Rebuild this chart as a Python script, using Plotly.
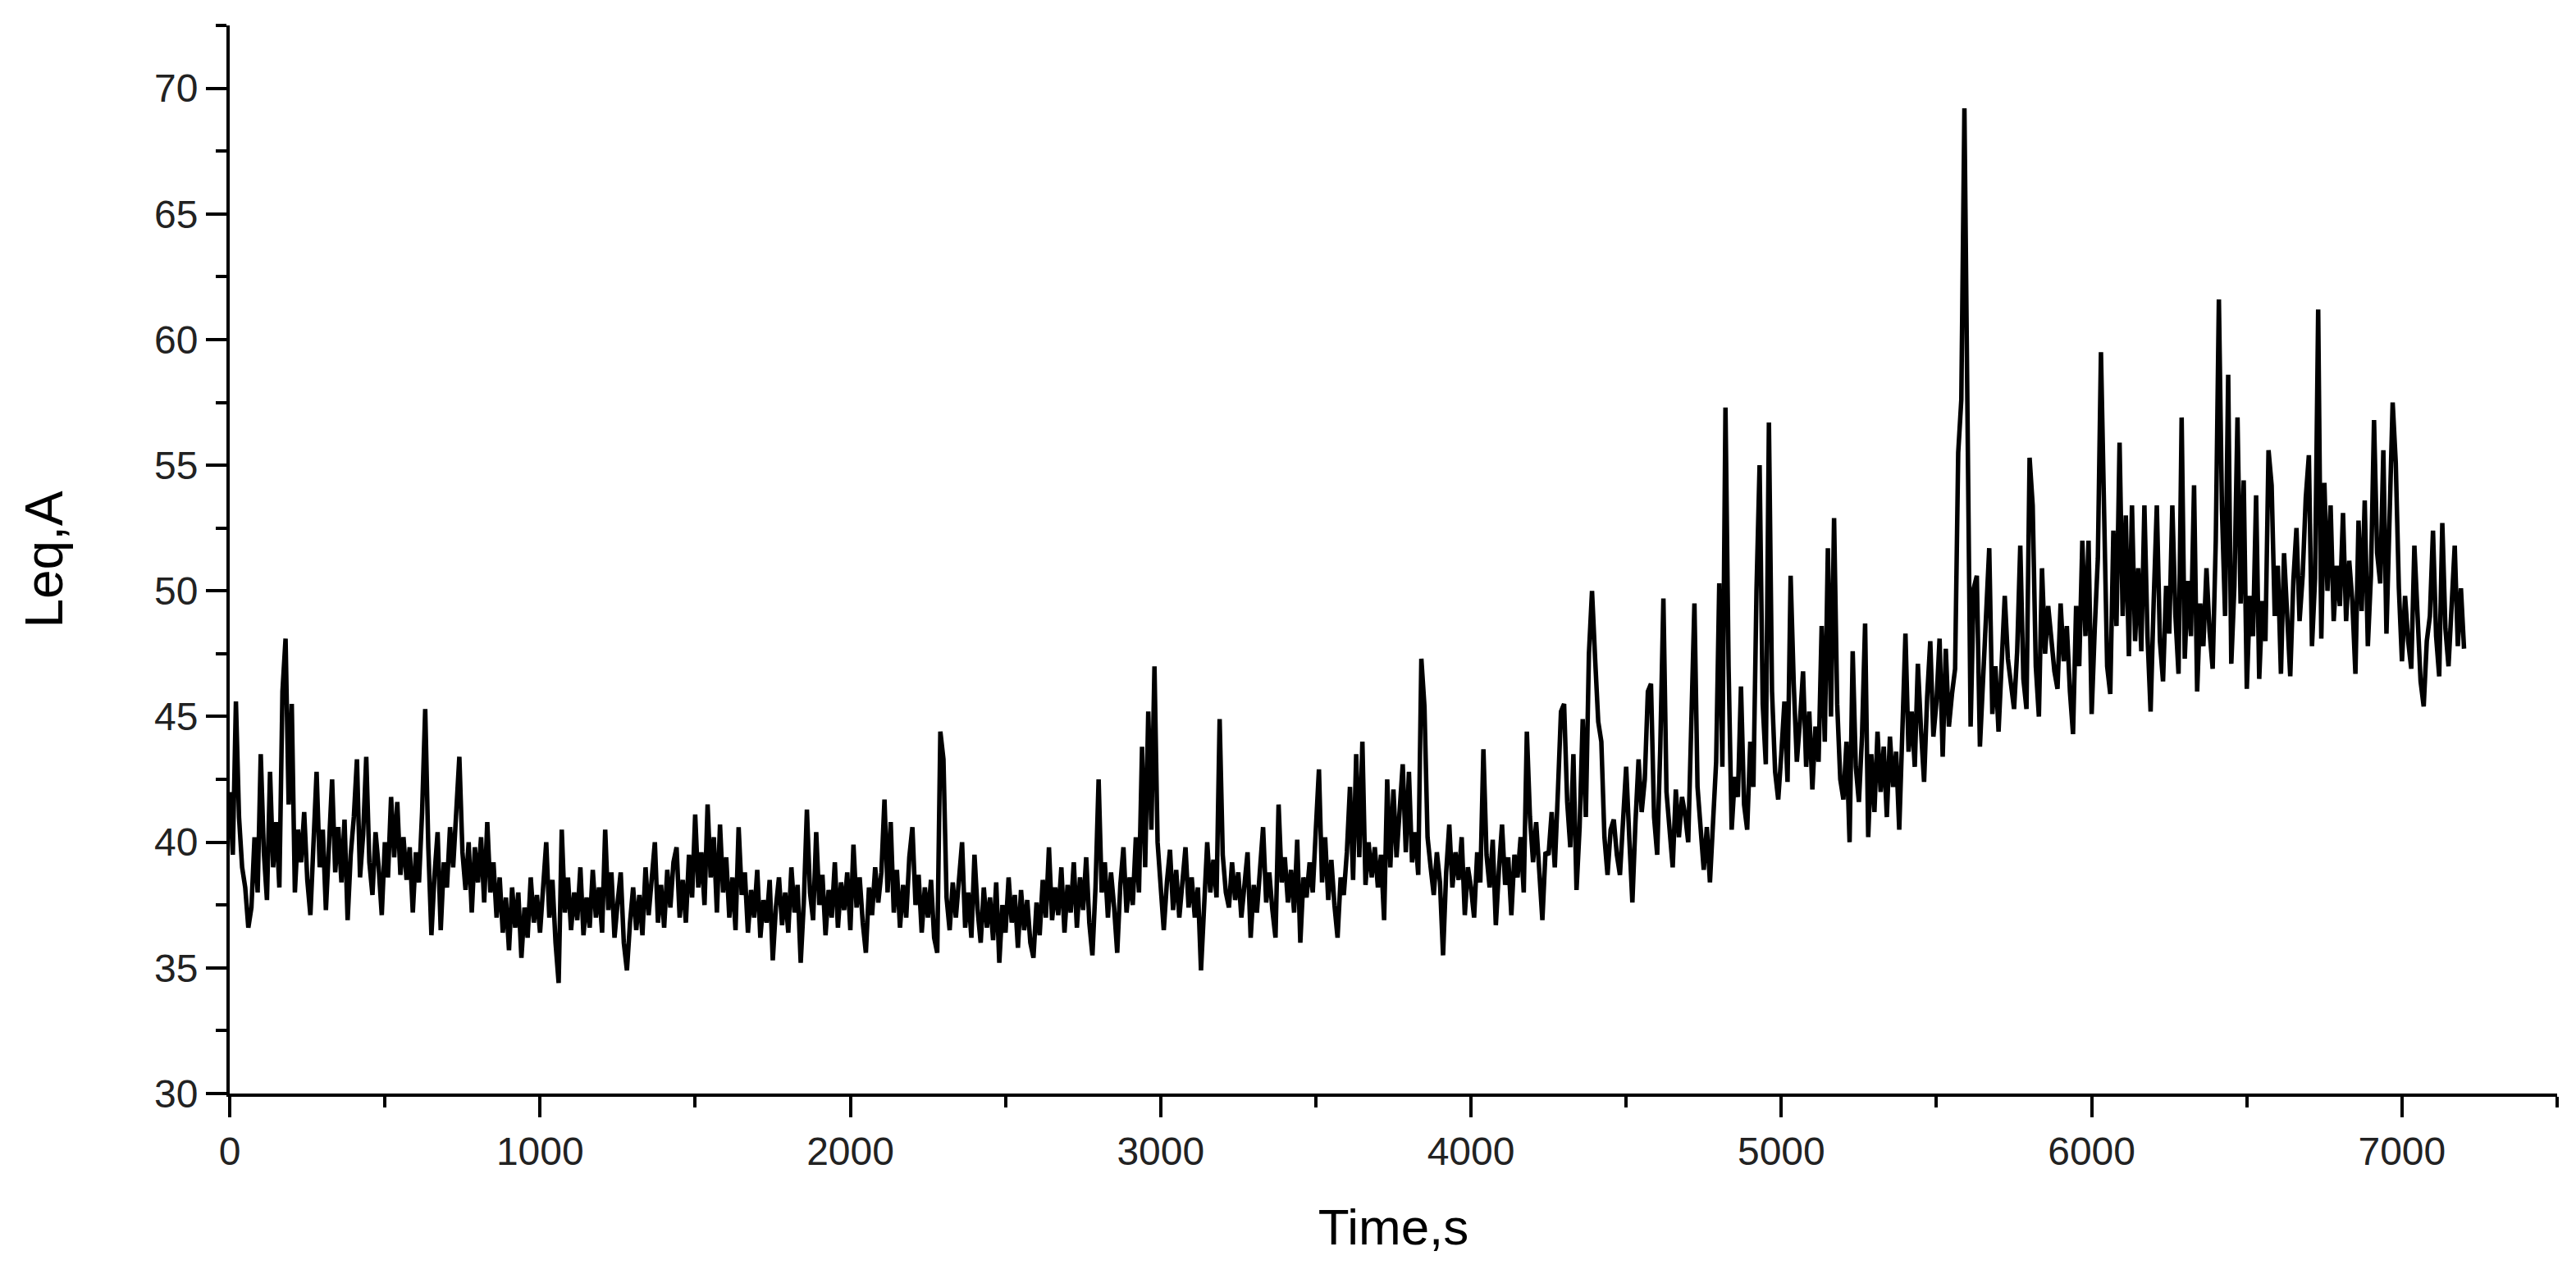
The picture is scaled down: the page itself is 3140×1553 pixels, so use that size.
import plotly.graph_objects as go

# Leq,A readings every 10 s
leq_a = [
    42.0, 39.5, 45.6, 41.0, 39.0, 38.2, 36.6, 37.4, 40.2, 38.0, 43.5, 39.6, 37.7, 42.8, 39.0, 40.8, 38.2, 46.0, 48.1, 41.5,
    45.5, 38.0, 40.5, 39.2, 41.2, 38.5, 37.1, 40.0, 42.8, 39.0, 40.5, 37.3, 40.2, 42.5, 38.8, 40.6, 38.4, 40.9, 36.9, 39.5,
    41.0, 43.3, 38.6, 40.3, 43.4, 39.2, 37.9, 40.4, 39.0, 37.1, 40.0, 38.6, 41.8, 39.4, 41.6, 38.7, 40.2, 38.5, 39.8, 37.2,
    39.6, 38.4, 41.2, 45.3, 39.8, 36.3, 38.7, 40.4, 36.5, 39.2, 38.2, 40.6, 39.0, 41.0, 43.4, 39.6, 38.1, 40.0, 37.2, 39.8,
    38.4, 40.2, 37.6, 40.8, 38.0, 39.2, 37.0, 38.6, 36.4, 37.8, 35.7, 38.2, 36.6, 38.0, 35.4, 37.4, 36.2, 38.6, 36.8, 37.9,
    36.4, 38.2, 40.0, 37.0, 38.5, 36.0, 34.4, 40.5, 37.2, 38.6, 36.5, 38.0, 36.9, 39.0, 36.3, 37.8, 36.6, 38.9, 37.0, 38.2,
    36.4, 40.5, 37.3, 38.8, 36.2, 37.6, 38.8, 36.0, 34.9, 36.8, 38.2, 36.5, 37.9, 36.3, 39.0, 37.1, 38.4, 40.0, 36.8, 38.3,
    36.6, 38.9, 37.4, 39.2, 39.8, 37.0, 38.5, 36.8, 39.5, 37.8, 41.1, 38.2, 39.6, 37.5, 41.5, 38.6, 40.2, 37.2, 40.7, 38.0,
    39.4, 37.0, 38.6, 36.5, 40.6, 37.9, 38.8, 36.4, 38.1, 37.0, 38.9, 36.2, 37.7, 36.8, 38.5, 35.3, 37.4, 38.6, 36.7, 38.0,
    36.4, 39.0, 37.2, 38.3, 35.2, 37.6, 41.3, 38.0, 36.9, 40.4, 37.5, 38.7, 36.3, 38.1, 37.0, 39.2, 36.6, 38.4, 37.3, 38.8,
    36.5, 39.9, 37.4, 38.6, 36.8, 35.6, 38.2, 37.1, 39.0, 37.6, 38.8, 41.7, 38.0, 40.8, 37.2, 38.9, 36.6, 38.3, 37.0, 39.4,
    40.6, 37.5, 38.7, 36.4, 38.2, 37.0, 38.5, 36.2, 35.6, 44.4, 43.3, 37.8, 36.5, 38.4, 37.0, 38.8, 40.0, 36.6, 38.0, 36.2,
    39.5, 37.3, 36.0, 38.2, 36.6, 37.8, 36.1, 38.4, 35.2, 37.5, 36.4, 38.6, 36.8, 37.9, 35.8, 38.1, 36.5, 37.7, 36.0, 35.4,
    37.6, 36.3, 38.5, 37.0, 39.8, 36.9, 38.2, 37.1, 39.0, 36.4, 38.3, 37.2, 39.2, 36.6, 38.6, 37.3, 39.4, 36.8, 35.5, 38.2,
    42.5, 38.0, 39.2, 37.0, 38.8, 37.4, 35.6, 38.3, 39.8, 37.2, 38.6, 37.5, 40.2, 38.0, 43.8, 39.0, 45.2, 40.5, 47.0, 40.0,
    38.2, 36.5, 38.4, 39.7, 37.3, 38.9, 37.0, 38.5, 39.8, 37.4, 38.6, 37.0, 38.2, 34.9, 37.6, 40.0, 38.0, 39.3, 37.8, 44.9,
    39.5, 38.0, 37.4, 39.2, 37.7, 38.8, 37.0, 38.5, 39.6, 36.2, 38.3, 37.2, 39.0, 40.6, 37.6, 38.8, 37.3, 36.2, 41.5, 38.4,
    39.4, 37.6, 38.9, 37.2, 40.1, 36.0, 38.6, 37.8, 39.2, 38.0, 40.5, 42.9, 38.4, 40.2, 37.7, 39.3, 37.5, 36.2, 38.6, 37.9,
    39.6, 42.2, 38.5, 43.5, 39.4, 44.0, 38.3, 40.0, 38.6, 39.8, 38.2, 39.5, 36.9, 42.5, 39.0, 42.1, 39.4, 41.0, 43.1, 39.6,
    42.8, 39.2, 40.4, 38.7, 47.3, 45.4, 40.2, 39.0, 37.9, 39.6, 38.4, 35.5, 38.8, 40.7, 38.2, 39.6, 38.5, 40.2, 37.1, 39.0,
    38.2, 37.0, 39.6, 38.4, 43.7, 39.5, 38.2, 40.1, 36.7, 38.9, 40.7, 38.3, 39.4, 37.1, 39.5, 38.6, 40.2, 38.0, 44.4, 41.0,
    39.2, 40.8, 38.5, 36.9, 39.6, 39.5, 41.2, 39.0, 42.0, 45.2, 45.5, 41.6, 39.8, 43.5, 38.1, 40.6, 44.9, 41.0, 47.5, 50.0,
    47.3, 44.8, 44.0, 40.2, 38.7, 40.5, 40.9, 39.5, 38.7, 40.6, 43.0, 40.2, 37.6, 40.8, 43.3, 41.2, 42.5, 46.0, 46.3, 41.0,
    39.5, 43.8, 49.7, 42.0, 40.6, 39.0, 42.1, 40.2, 41.8, 41.1, 40.0, 44.5, 49.5, 42.2, 40.4, 38.9, 40.6, 38.4, 40.8, 43.2,
    50.3, 43.0, 57.3, 47.0, 40.5, 42.6, 41.8, 46.2, 41.5, 40.5, 44.0, 42.2, 50.0, 55.0, 45.5, 43.1, 56.7, 46.0, 42.8, 41.7,
    43.5, 45.6, 42.4, 50.6, 46.3, 43.2, 44.8, 46.8, 43.0, 45.2, 42.1, 44.6, 43.2, 48.6, 44.0, 51.7, 45.0, 52.9, 45.5, 42.5,
    41.7, 44.0, 40.0, 47.6, 43.0, 41.6, 44.2, 48.7, 40.2, 43.5, 41.2, 44.4, 42.0, 43.8, 41.0, 44.2, 42.2, 43.6, 40.5, 44.0,
    48.3, 43.6, 45.2, 43.0, 47.1, 44.5, 42.4, 45.8, 48.0, 44.2, 45.6, 48.1, 43.4, 47.7, 44.6, 45.9, 46.9, 55.5, 57.6, 69.2,
    58.4, 44.6, 50.1, 50.6, 43.8, 46.5, 48.3, 51.7, 45.1, 47.0, 44.4, 46.8, 49.8, 47.3, 46.2, 45.3, 47.6, 51.8, 46.5, 45.3,
    55.3, 53.4, 47.0, 45.0, 50.9, 47.5, 49.4, 48.0, 46.8, 46.1, 49.5, 47.2, 48.6, 46.0, 44.3, 49.4, 47.0, 52.0, 48.2, 52.0,
    45.1, 48.5, 51.3, 59.5, 53.9, 47.0, 45.9, 52.4, 48.6, 55.9, 49.0, 53.0, 47.4, 53.4, 48.0, 50.9, 47.6, 53.4, 48.2, 45.2,
    49.6, 53.4, 48.0, 46.4, 50.2, 48.3, 53.4, 49.0, 46.7, 56.9, 47.3, 50.4, 48.2, 54.2, 46.0, 49.5, 47.8, 50.9, 48.4, 46.9,
    52.0, 61.6, 53.2, 49.0, 58.6, 47.1, 50.2, 56.9, 49.5, 54.4, 46.1, 49.8, 48.2, 53.8, 46.5, 49.6, 48.0, 55.6, 54.2, 49.0,
    51.0, 46.7, 51.5, 48.6, 46.6, 50.4, 52.5, 48.8, 50.6, 53.7, 55.4, 47.8, 50.5, 61.2, 48.1, 54.3, 50.0, 53.4, 48.8, 51.0,
    49.4, 53.1, 48.8, 51.2, 49.6, 46.7, 52.8, 49.2, 53.6, 47.8, 50.6, 56.8, 51.5, 50.3, 55.6, 48.3, 53.0, 57.5, 55.1, 50.1,
    47.2, 49.8, 48.0, 46.9, 51.8, 48.5, 46.4, 45.4, 48.0, 49.0, 52.4, 48.2, 46.6, 52.7, 48.5, 47.0, 49.5, 51.8, 47.8, 50.1,
    47.7,
]
time_s = [i * 10 for i in range(len(leq_a))]

x_ticks = [0, 1000, 2000, 3000, 4000, 5000, 6000, 7000]
y_ticks = [30, 35, 40, 45, 50, 55, 60, 65, 70]

fig = go.Figure()
fig.add_trace(go.Scatter(x=time_s, y=leq_a, mode="lines",
                         line=dict(color="black", width=5.5), showlegend=False))

axis_font = dict(family="Liberation Sans, Arial", size=48, color="#222")

fig.update_xaxes(
    range=[0, 7500], tickvals=x_ticks, ticks="outside", ticklen=25, tickwidth=4,
    tickcolor="black", showline=True, linewidth=4, linecolor="black",
    showgrid=False, zeroline=False, tickfont=axis_font,
    minor=dict(dtick=500, tick0=0, ticks="outside", ticklen=13, tickwidth=4,
               tickcolor="black", showgrid=False),
    title=dict(text="Time,s", font=dict(family="Liberation Sans, Arial", size=62, color="black"),
               standoff=46),
)
fig.update_yaxes(
    range=[30, 72.5], tickvals=y_ticks, ticks="outside", ticklen=25, tickwidth=4,
    tickcolor="black", showline=True, linewidth=4, linecolor="black",
    showgrid=False, zeroline=False, tickfont=axis_font,
    minor=dict(dtick=2.5, tick0=30, ticks="outside", ticklen=13, tickwidth=4,
               tickcolor="black", showgrid=False),
    title=dict(text="Leq,A", font=dict(family="Liberation Sans, Arial", size=64, color="black"),
               standoff=92),
)

fig.update_layout(
    width=3140, height=1553,
    margin=dict(l=272, r=31, t=23, b=228),
    plot_bgcolor="white", paper_bgcolor="white",
)

fig.write_html("out.html")
